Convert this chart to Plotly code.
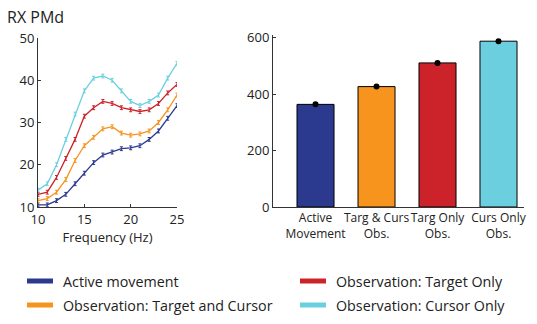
import plotly.graph_objects as go

freq = list(range(10, 26))
active = [10.5, 10.5, 11.5, 13.0, 15.5, 18.0, 20.5, 22.3, 23.0, 23.8, 24.0, 24.5, 26.0, 28.0, 31.0, 34.0]
targ_curs = [11.5, 12.0, 13.5, 16.5, 21.0, 24.5, 26.5, 28.5, 29.0, 27.5, 27.0, 27.3, 28.0, 30.0, 33.0, 36.5]
targ_only = [13.0, 13.5, 17.0, 21.5, 26.0, 31.5, 33.5, 35.0, 34.5, 33.5, 33.0, 32.6, 33.0, 34.5, 37.0, 39.0]
curs_only = [14.0, 15.5, 20.0, 26.0, 32.0, 37.5, 40.5, 41.0, 40.0, 37.5, 35.0, 34.0, 35.0, 36.5, 40.5, 44.0]
line_err = 0.45

bar_labels = ["Active<br>Movement", "Targ & Curs<br>Obs.", "Targ Only<br>Obs.", "Curs Only<br>Obs."]
bar_values = [364, 427, 511, 588]
bar_err = [3, 3, 3, 3]

legend_names = ["Active movement", "Observation: Target and Cursor",
                "Observation: Target Only", "Observation: Cursor Only"]
colors = ["#2B3A8F", "#F7941E", "#CC2229", "#6CCFE0"]

FONT = "Open Sans"

fig = go.Figure()
series = [active, targ_curs, targ_only, curs_only]
for name, vals, col in zip(legend_names, series, colors):
    fig.add_trace(go.Scatter(
        x=freq, y=vals, mode="lines", name=name,
        line=dict(color=col, width=1.3),
        error_y=dict(type="constant", value=line_err, color=col, thickness=1, width=1.5),
        xaxis="x", yaxis="y", showlegend=False))

fig.add_trace(go.Bar(
    x=list(range(len(bar_labels))), y=bar_values, width=0.607,
    marker=dict(color=colors, line=dict(color="black", width=1)),
    xaxis="x2", yaxis="y2", showlegend=False))
fig.add_trace(go.Scatter(
    x=list(range(len(bar_labels))), y=bar_values, mode="markers",
    marker=dict(color="black", size=6),
    error_y=dict(type="data", array=bar_err, color="black", thickness=1, width=2),
    xaxis="x2", yaxis="y2", showlegend=False))

axis_common = dict(showgrid=False, zeroline=False, showline=True, linecolor="#333",
                   linewidth=1, ticks="inside", ticklen=3, tickcolor="#333",
                   automargin=False,
                   tickfont=dict(family=FONT, size=13, color="#222"))

fig.update_layout(
    width=537, height=324, margin=dict(l=0, r=0, t=0, b=0, autoexpand=False),
    paper_bgcolor="white", plot_bgcolor="white",
    font=dict(family=FONT, color="#222"),
    xaxis=dict(domain=[38/537, 177/537], range=[10, 25], tickvals=[10, 15, 20, 25],
               title=dict(text="Frequency (Hz)", font=dict(family=FONT, size=13), standoff=6),
               anchor="y", **axis_common),
    yaxis=dict(domain=[1-207/324, 1-38/324], range=[10, 50], tickvals=[10, 20, 30, 40, 50],
               anchor="x", **axis_common),
    xaxis2=dict(domain=[273/537, 524/537], range=[-0.697, 3.418],
                tickvals=list(range(len(bar_labels))), ticktext=bar_labels,
                tickangle=0,
                anchor="y2", **{**axis_common, "ticks": "",
                                 "tickfont": dict(family=FONT, size=12, color="#222")}),
    yaxis2=dict(domain=[1-207/324, 1-35/324], range=[0, 610], tickvals=[0, 200, 400, 600],
                anchor="x2", **axis_common),
    annotations=[dict(text="RX PMd", x=5/537, y=1-17/324, xref="paper", yref="paper",
                      xanchor="left", yanchor="middle", showarrow=False,
                      font=dict(family=FONT, size=16, color="#222"))],
    bargap=0.4,
)

# legend drawn as swatches + labels
leg_pos = [(27, 281), (27, 305), (300, 281), (300, 305)]
for (lx, ly), name, col in zip(leg_pos, legend_names, colors):
    fig.add_shape(type="rect", xref="paper", yref="paper",
                  x0=lx/537, x1=(lx+26)/537, y0=1-(ly+2.5)/324, y1=1-(ly-2.5)/324,
                  fillcolor=col, line=dict(width=0))
    fig.add_annotation(text=name, x=(lx+34)/537, y=1-ly/324, xref="paper", yref="paper",
                       xanchor="left", yanchor="middle", showarrow=False,
                       font=dict(family=FONT, size=14.3, color="#222"))

fig.write_html("out.html")
